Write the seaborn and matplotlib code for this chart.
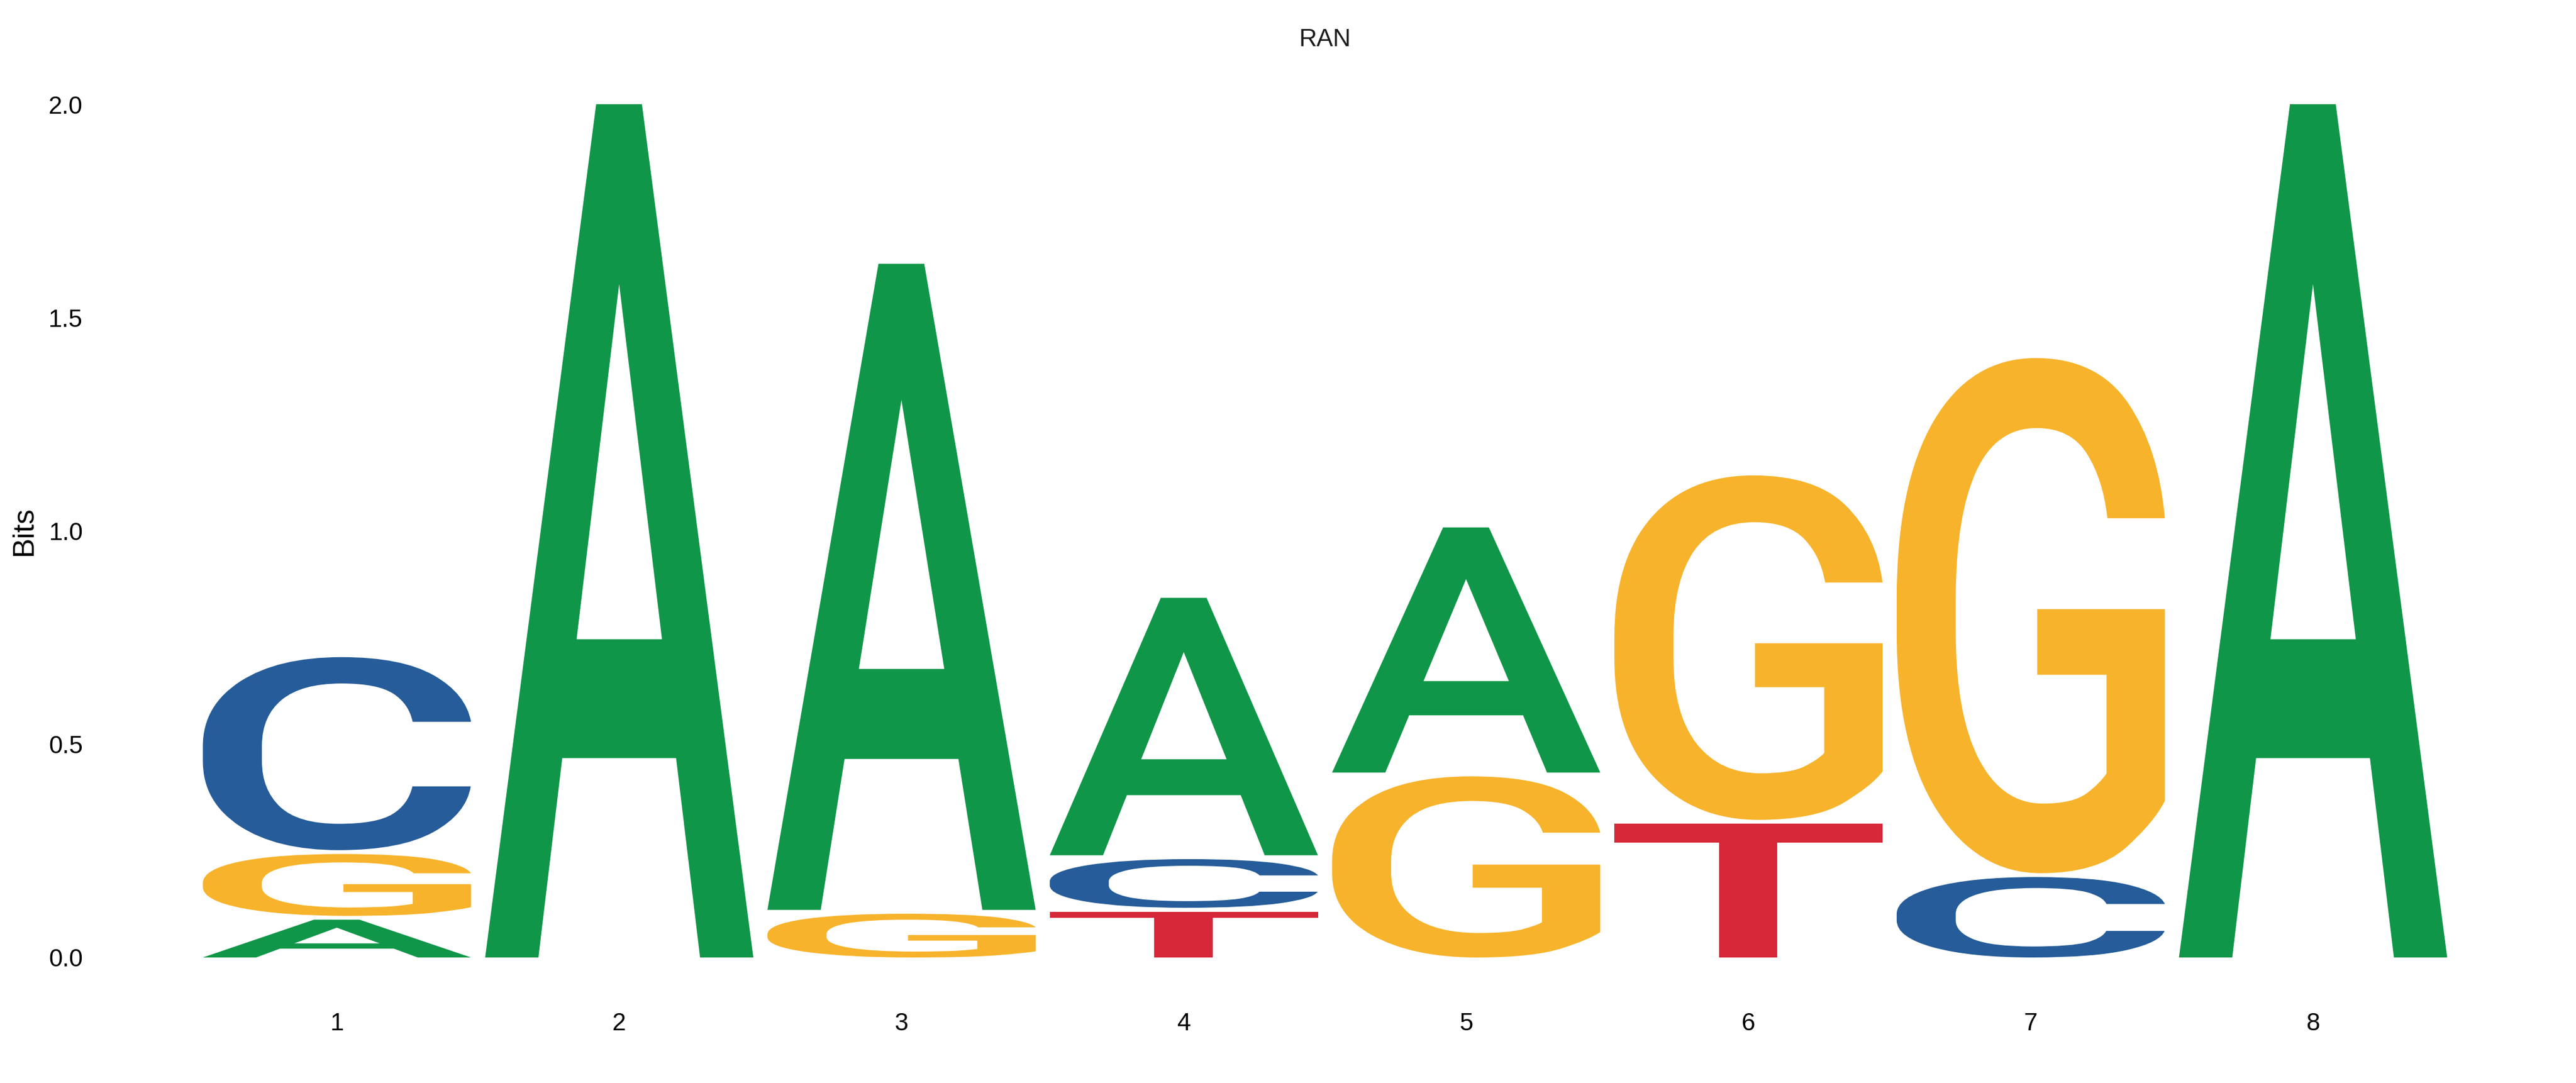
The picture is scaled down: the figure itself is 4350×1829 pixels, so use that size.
import numpy as np
import pandas as pd
import matplotlib
matplotlib.use("Agg")
import matplotlib.pyplot as plt
import seaborn as sns
from matplotlib.textpath import TextPath
from matplotlib.patches import PathPatch
from matplotlib.font_manager import FontProperties
from matplotlib.transforms import Affine2D

# ---------------- data ----------------
title = "RAN"
positions = [1, 2, 3, 4, 5, 6, 7, 8]
bits_A = [0.093, 2.000, 1.519, 0.608, 0.579, 0.000, 0.000, 2.000]
bits_C = [0.457, 0.000, 0.000, 0.123, 0.000, 0.000, 0.193, 0.000]
bits_G = [0.154, 0.000, 0.107, 0.000, 0.429, 0.812, 1.212, 0.000]
bits_T = [0.000, 0.000, 0.000, 0.112, 0.000, 0.318, 0.000, 0.000]
y_ticks = [0.0, 0.5, 1.0, 1.5, 2.0]
y_ticklabels = ["0.0", "0.5", "1.0", "1.5", "2.0"]

letter_colors = {"A": "#109648", "C": "#255C99", "G": "#F7B32B", "T": "#D62839"}

df = pd.DataFrame({"pos": positions, "A": bits_A, "C": bits_C, "G": bits_G, "T": bits_T})
long = df.melt(id_vars="pos", var_name="letter", value_name="bits")
long = long[long["bits"] > 0.001]

# ---------------- style ----------------
sns.set_theme(style="white")
plt.rcParams["font.family"] = ["Liberation Sans", "DejaVu Sans"]

W, H, DPI = 4350, 1829, 300
fig = plt.figure(figsize=(W / DPI, H / DPI), dpi=DPI)
fig.patch.set_facecolor("white")

ax_left, ax_right = 161, 4314
ax_top, ax_bottom = 176, 1617
ax = fig.add_axes([ax_left / W, 1 - ax_bottom / H,
                   (ax_right - ax_left) / W, (ax_bottom - ax_top) / H])
ax.set_facecolor("white")

x_lo = 0.1442
x_hi = 8.8558
ax.set_xlim(x_lo, x_hi)
ax.set_ylim(0, 2)

letter_font = FontProperties(family="Roboto", weight="medium")
col_width = 0.95
gap = 0.009

def draw_letter(ax, ch, xc, y0, y1, color):
    tp = TextPath((0, 0), ch, size=1, prop=letter_font)
    ext = tp.get_extents()
    sx = col_width / ext.width
    sy = (y1 - y0) / ext.height
    tr = (Affine2D()
          .translate(-ext.x0, -ext.y0)
          .scale(sx, sy)
          .translate(xc - col_width / 2, y0))
    path = tr.transform_path(tp)
    patch = PathPatch(path, facecolor=color, edgecolor="none", lw=0,
                      transform=ax.transData)
    ax.add_patch(patch)

for pos, grp in long.groupby("pos"):
    grp = grp.sort_values("bits")
    n = len(grp)
    base = 0.0
    for i, (_, row) in enumerate(grp.iterrows()):
        top = base + row["bits"]
        g0 = base + (gap / 2 if i > 0 else 0)
        g1 = top - (gap / 2 if i < n - 1 else 0)
        draw_letter(ax, row["letter"], pos, g0, g1, letter_colors[row["letter"]])
        base = top

sns.despine(ax=ax, left=True, bottom=True, top=True, right=True)
ax.grid(False)

ax.set_xticks(positions)
ax.set_xticklabels([str(p) for p in positions], fontsize=10, color="black")
ax.set_yticks(y_ticks)
ax.set_yticklabels(y_ticklabels, fontsize=10, color="black")
ax.tick_params(axis="x", length=0, pad=22)
ax.tick_params(axis="y", length=0, pad=5)

ax.set_ylabel("Bits", fontsize=12, color="black", labelpad=4.5)
ax.set_xlabel("")
ax.set_title(title, fontsize=10, color="#1A1A1A", pad=23.5)

fig.savefig("out.png", dpi=DPI, facecolor="white")
